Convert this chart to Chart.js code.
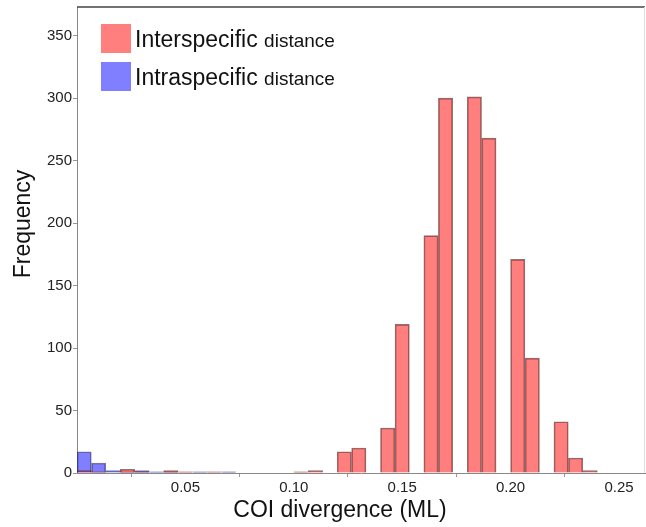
<!DOCTYPE html>
<html>
<head>
<meta charset="utf-8">
<script src="https://cdn.jsdelivr.net/npm/chart.js@4/dist/chart.umd.min.js"></script>
<style>
  html, body { margin: 0; padding: 0; background: #fff; }
  canvas { display: block; }
</style>
</head>
<body>
<canvas id="chart" width="646" height="527"></canvas>
<script>
// bin centres of the histogram (bin width 1/150)
const binCenters = [
  0.0033, 0.0100, 0.0167, 0.0233, 0.0300, 0.0367, 0.0433, 0.0500, 0.0567, 0.0633,
  0.0700, 0.0767, 0.0833, 0.0900, 0.0967, 0.1033, 0.1100, 0.1167, 0.1233, 0.1300,
  0.1367, 0.1433, 0.1500, 0.1567, 0.1633, 0.1700, 0.1767, 0.1833, 0.1900, 0.1967,
  0.2033, 0.2100, 0.2167, 0.2233, 0.2300, 0.2367
];
const interspecific = [
  2, 1, 0, 3, 1, 0, 2, 1, 0, 1,
  0, 0, 0, 0, 0, 1, 2, 0, 17, 20,
  0, 36, 119, 0, 190, 300, 0, 301, 268, 0,
  171, 92, 0, 41, 12, 2
];
const intraspecific = [
  17, 8, 2, 1, 2, 1, 1, 0, 1, 0,
  1, 0, 0, 0, 0, 0, 0, 0, 0, 0,
  0, 0, 0, 0, 0, 0, 0, 0, 0, 0,
  0, 0, 0, 0, 0, 0
];
const seriesNames = ['Interspecific distance', 'Intraspecific distance'];
const xTickValues = [0.05, 0.10, 0.15, 0.20, 0.25];
const yTickValues = [0, 50, 100, 150, 200, 250, 300, 350];
const xTitle = 'COI divergence (ML)';
const yTitle = 'Frequency';

const FONT = '"Liberation Sans", Arial, sans-serif';

const toPoints = values => binCenters.map((x, i) => ({ x: x, y: values[i] }));

// legend with mixed font sizes, axis titles and the top frame line
const overlay = {
  id: 'overlay',
  afterDraw(chart) {
    const { ctx, chartArea: a } = chart;
    ctx.save();

    ctx.strokeStyle = '#444';
    ctx.lineWidth = 1.5;
    ctx.beginPath();
    ctx.moveTo(a.left, a.top);
    ctx.lineTo(a.right, a.top);
    ctx.stroke();
    ctx.strokeStyle = '#ddd';
    ctx.lineWidth = 1;
    ctx.beginPath();
    ctx.moveTo(a.right - 0.5, a.top);
    ctx.lineTo(a.right - 0.5, a.bottom);
    ctx.stroke();

    ctx.textAlign = 'left';
    ctx.textBaseline = 'alphabetic';
    chart.data.datasets.forEach((ds, i) => {
      const y = a.top + 17 + i * 38;
      ctx.fillStyle = ds.backgroundColor;
      ctx.fillRect(a.left + 24, y, 30, 29);
      const words = ds.label.split(' ');
      ctx.fillStyle = '#111';
      ctx.font = '23px ' + FONT;
      ctx.fillText(words[0], a.left + 58, y + 23);
      const w = ctx.measureText(words[0] + ' ').width;
      ctx.font = '19px ' + FONT;
      ctx.fillText(words.slice(1).join(' '), a.left + 58 + w, y + 23);
    });

    ctx.font = '23px ' + FONT;
    ctx.fillStyle = '#111';
    ctx.textAlign = 'center';
    ctx.fillText(xTitle, 340, 517);
    ctx.translate(30, 224);
    ctx.rotate(-Math.PI / 2);
    ctx.fillText(yTitle, 0, 0);
    ctx.restore();
  }
};

new Chart(document.getElementById('chart'), {
  type: 'bar',
  data: {
    datasets: [
      {
        label: seriesNames[0],
        data: toPoints(interspecific),
        backgroundColor: 'rgba(255, 0, 0, 0.5)',
        borderColor: 'rgba(45, 30, 30, 0.6)',
        borderWidth: 1
      },
      {
        label: seriesNames[1],
        data: toPoints(intraspecific),
        backgroundColor: 'rgba(0, 0, 255, 0.5)',
        borderColor: 'rgba(30, 30, 60, 0.55)',
        borderWidth: 1
      }
    ]
  },
  options: {
    responsive: false,
    animation: false,
    events: [],
    grouped: false,
    barPercentage: 1,
    categoryPercentage: 1,
    layout: { padding: { top: 7, right: 1, left: 0, bottom: 0 } },
    plugins: {
      legend: { display: false },
      tooltip: { enabled: false }
    },
    scales: {
      x: {
        type: 'linear',
        min: 0,
        max: 0.262,
        offset: false,
        grid: { drawOnChartArea: false, tickLength: 4, color: '#999' },
        border: { color: '#888' },
        ticks: {
          font: { family: FONT, size: 15 },
          color: '#222',
          padding: 2,
          maxRotation: 0,
          autoSkip: false,
          callback: v => v.toFixed(2)
        },
        afterBuildTicks: s => { s.ticks = xTickValues.map(v => ({ value: v })); },
        afterFit: s => { s.height = 54; s.paddingLeft = 0; s.paddingRight = 0; }
      },
      y: {
        min: 0,
        max: 373,
        grid: { drawOnChartArea: false, tickLength: 4, color: '#999' },
        border: { color: '#888' },
        ticks: {
          font: { family: FONT, size: 15 },
          color: '#222',
          padding: 1
        },
        afterBuildTicks: s => { s.ticks = yTickValues.map(v => ({ value: v })); },
        afterFit: s => { s.width = 77; s.paddingTop = 0; s.paddingBottom = 0; }
      }
    }
  },
  plugins: [overlay]
});
</script>
</body>
</html>
